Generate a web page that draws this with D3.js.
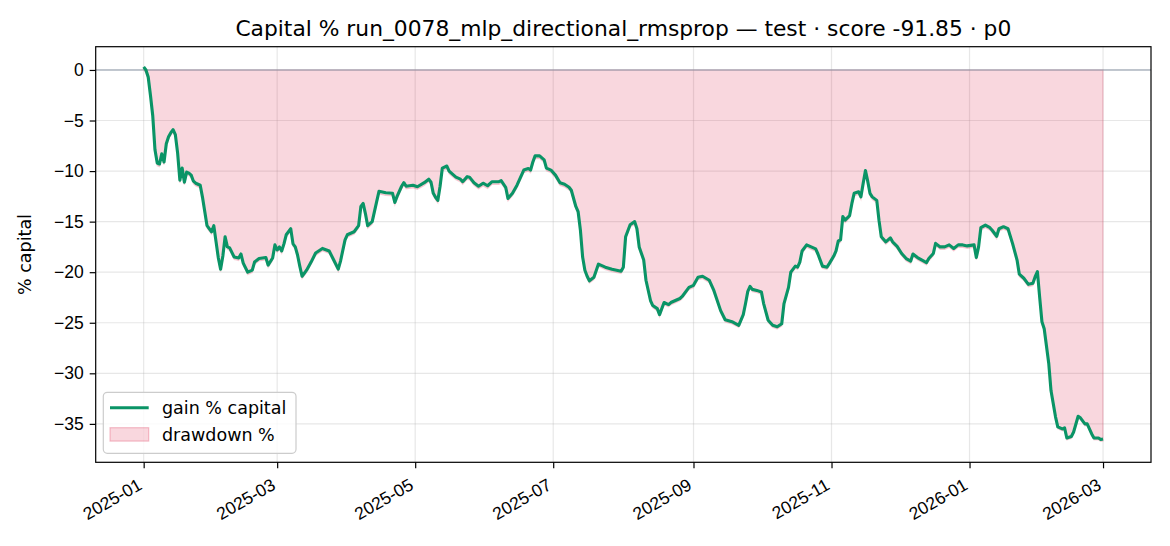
<!DOCTYPE html>
<html>
<head>
<meta charset="utf-8">
<script src="https://cdn.jsdelivr.net/npm/d3@7"></script>
<style>
  body { margin: 0; background: #fff; }
  svg { font-family: "DejaVu Sans", sans-serif; }
</style>
</head>
<body>
<div id="chart"></div>
<script>
// series: days since the first test day, gain % capital
const startDate = "2025-01-01";
const dayOffsets = [0,1,2,3,4,5,6,7,8,9,10,11,12,13,14,15,16,17,18,19,20,21,22,23,25,26,27,28,30,31,
  32,33,34,35,36,37,38,40,42,43,44,46,48,49,51,54,55,57,58,59,60,61,62,63,65,66,67,68,69,70,
  71,72,74,76,79,82,84,86,87,89,90,93,95,96,97,98,99,101,103,104,107,110,111,112,114,115,116,119,121,124,
  126,127,128,129,130,131,132,134,135,138,140,141,143,144,146,148,150,152,154,157,158,160,161,163,165,166,168,170,171,172,
  173,175,177,178,180,182,184,186,188,189,191,192,193,194,195,196,197,199,201,204,207,211,212,213,215,217,218,219,221,222,
  224,225,227,228,230,232,233,235,237,238,241,243,245,247,250,252,255,257,260,263,265,266,267,268,269,271,273,274,276,278,
  280,282,283,285,286,288,289,290,291,293,295,297,298,300,302,303,305,306,307,308,309,310,312,313,314,316,317,318,319,320,
  321,322,324,325,326,328,330,331,333,335,337,339,340,342,344,346,347,349,350,352,354,356,358,360,362,364,367,368,369,370,
  372,374,375,377,378,380,382,384,386,387,389,391,393,394,395,396,397,398,400,401,403,404,406,407,408,410,411,413,414,416,
  417,419,420,422,423,424];
const gainPct = [0.3,0.0,-0.7,-2.5,-4.5,-7.9,-9.2,-9.3,-8.3,-9.1,-7.3,-6.6,-6.2,-5.9,-6.4,-8.2,-10.9,-9.7,-11.1,-10.1,-10.2,-10.4,-11.0,-11.2,-11.4,-12.6,-14.0,-15.4,-16.0,-15.4,
  -17.0,-18.6,-19.7,-18.4,-16.5,-17.5,-17.6,-18.5,-18.6,-18.2,-19.1,-20.0,-19.8,-19.0,-18.65,-18.55,-19.3,-18.6,-17.3,-17.8,-17.5,-17.9,-17.2,-16.3,-15.7,-17.2,-17.5,-18.3,-19.4,-20.4,
  -20.1,-19.8,-19.0,-18.1,-17.65,-17.9,-18.8,-19.7,-18.9,-16.8,-16.3,-16.0,-15.4,-13.5,-13.2,-14.2,-15.4,-15.0,-13.0,-12.0,-12.15,-12.2,-13.1,-12.5,-11.5,-11.15,-11.5,-11.4,-11.55,-11.15,
  -10.8,-11.1,-12.2,-12.6,-12.9,-11.5,-9.7,-9.5,-10.0,-10.6,-10.8,-11.05,-10.55,-10.6,-11.15,-11.5,-11.2,-11.45,-11.05,-11.05,-10.95,-11.6,-12.7,-12.2,-11.4,-10.9,-9.9,-9.75,-9.9,-9.1,
  -8.5,-8.5,-8.9,-9.7,-9.9,-10.4,-11.15,-11.3,-11.6,-11.9,-13.5,-14.0,-15.8,-18.5,-19.8,-20.4,-20.85,-20.5,-19.2,-19.5,-19.7,-19.9,-19.5,-16.5,-15.3,-15.0,-15.7,-17.5,-18.8,-20.8,
  -22.8,-23.3,-23.6,-24.2,-23.0,-23.2,-23.0,-22.8,-22.6,-22.4,-21.5,-21.3,-20.5,-20.4,-20.8,-21.8,-23.8,-24.7,-24.9,-25.25,-24.2,-23.1,-21.9,-21.4,-21.7,-21.8,-21.95,-23.1,-24.75,-25.25,
  -25.4,-25.1,-23.1,-21.5,-20.0,-19.4,-19.5,-19.0,-17.9,-17.3,-17.5,-17.7,-18.2,-19.4,-19.5,-19.15,-18.4,-17.9,-16.9,-16.8,-14.5,-14.85,-14.4,-13.2,-12.2,-12.05,-12.55,-11.2,-9.95,-11.0,
  -12.2,-12.55,-12.9,-14.9,-16.5,-17.0,-16.6,-17.0,-17.45,-18.15,-18.65,-18.9,-18.2,-18.55,-18.8,-19.05,-18.65,-18.15,-17.15,-17.5,-17.5,-17.3,-17.65,-17.3,-17.3,-17.4,-17.3,-18.55,-17.5,-15.6,
  -15.35,-15.6,-15.85,-16.45,-15.7,-15.5,-15.7,-17.15,-18.8,-20.2,-20.6,-21.2,-21.1,-20.45,-19.95,-22.5,-24.9,-25.6,-29.0,-31.7,-34.3,-35.3,-35.5,-35.4,-36.4,-36.25,-35.8,-34.25,-34.4,-35.0,
  -35.0,-36.0,-36.4,-36.4,-36.55,-36.5];

const yTicks = [0, -5, -10, -15, -20, -25, -30, -35];
const xTickLabels = ["2025-01", "2025-03", "2025-05", "2025-07", "2025-09", "2025-11", "2026-01", "2026-03"];
const legendLabels = ["gain % capital", "drawdown %"];
const titleText = "Capital % run_0078_mlp_directional_rmsprop \u2014 test \u00b7 score -91.85 \u00b7 p0";

const W = 1170, H = 546;
const plotL = 95.7, plotR = 1151, plotT = 46.7, plotB = 462.3;
const lineColor = "#0a9466";
const ddColor = "#dc143c";
const fs = 17.5;

const parse = d3.timeParse("%Y-%m-%d");
const parseMonth = d3.timeParse("%Y-%m");
const t0 = parse(startDate);

// drawdown relative to the running peak of capital
let peak = -Infinity;
const data = dayOffsets.map((d, i) => {
  const v = gainPct[i];
  peak = Math.max(peak, v);
  return {date: d3.timeDay.offset(t0, d), gain: v, dd: ((100 + v) / (100 + peak) - 1) * 100};
});

const svg = d3.select("#chart").append("svg")
  .attr("width", W).attr("height", H);

// x range padded 5% like matplotlib
const ext = d3.extent(data, d => d.date);
const pad = (ext[1] - ext[0]) * 0.05;
const x = d3.scaleTime()
  .domain([new Date(+ext[0] - pad), new Date(+ext[1] + pad)])
  .range([plotL, plotR]);

const y = d3.scaleLinear()
  .domain([-38.8, 2.3])
  .range([plotB, plotT]);

const xTickDates = xTickLabels.map(parseMonth);

// grid
svg.append("g").selectAll("line")
  .data(xTickDates)
  .join("line")
    .attr("x1", d => x(d)).attr("x2", d => x(d))
    .attr("y1", plotT).attr("y2", plotB)
    .attr("stroke", "#b0b0b0").attr("stroke-opacity", 0.3).attr("stroke-width", 1.2);
svg.append("g").selectAll("line")
  .data(yTicks)
  .join("line")
    .attr("x1", plotL).attr("x2", plotR)
    .attr("y1", d => y(d)).attr("y2", d => y(d))
    .attr("stroke", "#b0b0b0").attr("stroke-opacity", 0.3).attr("stroke-width", 1.2);

// drawdown fill
const area = d3.area()
  .x(d => x(d.date))
  .y0(y(0))
  .y1(d => y(d.dd));
svg.append("path")
  .datum(data)
  .attr("d", area)
  .attr("fill", ddColor).attr("fill-opacity", 0.17)
  .attr("stroke", ddColor).attr("stroke-opacity", 0.17).attr("stroke-width", 1.2);

// zero line
svg.append("line")
  .attr("x1", plotL).attr("x2", plotR)
  .attr("y1", y(0)).attr("y2", y(0))
  .attr("stroke", "#8f9bab").attr("stroke-width", 1.1);

// gain line
const line = d3.line()
  .x(d => x(d.date))
  .y(d => y(d.gain));
svg.append("path")
  .datum(data)
  .attr("d", line)
  .attr("fill", "none")
  .attr("stroke", lineColor).attr("stroke-width", 3.1)
  .attr("stroke-linejoin", "round");

// frame
svg.append("rect")
  .attr("x", plotL).attr("y", plotT)
  .attr("width", plotR - plotL).attr("height", plotB - plotT)
  .attr("fill", "none").attr("stroke", "#000").attr("stroke-width", 1.2);

// axes
const xAxis = d3.axisBottom(x)
  .tickValues(xTickDates)
  .tickFormat(d3.timeFormat("%Y-%m"))
  .tickSize(6).tickPadding(6);
const gx = svg.append("g")
  .attr("transform", `translate(0,${plotB})`)
  .call(xAxis);
gx.select(".domain").remove();
gx.selectAll("line").attr("stroke", "#000").attr("stroke-width", 1.2);
gx.selectAll("text")
  .attr("font-size", fs)
  .attr("fill", "#000")
  .attr("text-anchor", "end")
  .attr("dy", null)
  .attr("y", null)
  .attr("transform", "translate(-1,26) rotate(-30)");

const yAxis = d3.axisLeft(y)
  .tickValues(yTicks)
  .tickFormat(d => d < 0 ? "\u2212" + Math.abs(d) : d)
  .tickSize(6).tickPadding(6);
const gy = svg.append("g")
  .attr("transform", `translate(${plotL},0)`)
  .call(yAxis);
gy.select(".domain").remove();
gy.selectAll("line").attr("stroke", "#000").attr("stroke-width", 1.2);
gy.selectAll("text").attr("font-size", fs).attr("fill", "#000");

// y label
svg.append("text")
  .attr("transform", `translate(31,${(plotT + plotB) / 2}) rotate(-90)`)
  .attr("text-anchor", "middle")
  .attr("font-size", fs)
  .text("% capital");

// title
svg.append("text")
  .attr("x", (plotL + plotR) / 2)
  .attr("y", 36)
  .attr("text-anchor", "middle")
  .attr("font-size", 21.8)
  .text(titleText);

// legend
const lg = svg.append("g");
lg.append("rect")
  .attr("x", 103.3).attr("y", 392.3)
  .attr("width", 192.7).attr("height", 61)
  .attr("rx", 4)
  .attr("fill", "#fff").attr("fill-opacity", 0.8)
  .attr("stroke", "#cccccc").attr("stroke-width", 1.2);
lg.append("line")
  .attr("x1", 110).attr("x2", 148.7)
  .attr("y1", 407.7).attr("y2", 407.7)
  .attr("stroke", lineColor).attr("stroke-width", 3.1);
lg.append("rect")
  .attr("x", 110).attr("y", 427.7)
  .attr("width", 38.7).attr("height", 13.4)
  .attr("fill", ddColor).attr("fill-opacity", 0.17)
  .attr("stroke", ddColor).attr("stroke-opacity", 0.25).attr("stroke-width", 1.2);
lg.selectAll("text.lab")
  .data(legendLabels)
  .join("text")
    .attr("class", "lab")
    .attr("x", 162)
    .attr("y", (d, i) => 414.3 + i * 26.7)
    .attr("font-size", fs)
    .text(d => d);
</script>
</body>
</html>
